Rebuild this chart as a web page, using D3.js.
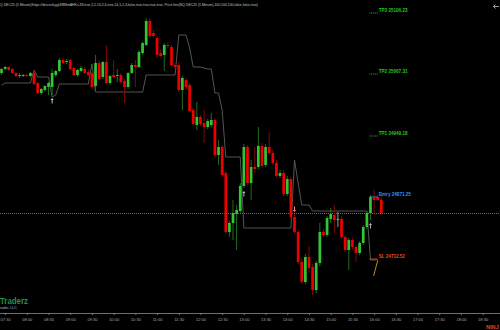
<!DOCTYPE html>
<html>
<head>
<meta charset="utf-8">
<script src="https://cdn.jsdelivr.net/npm/d3@7"></script>
<style>
  html, body { margin: 0; padding: 0; background: #000; overflow: hidden; }
  svg { display: block; font-family: "Liberation Sans", Arial, sans-serif; }
</style>
</head>
<body>
<div id="chart"></div>
<script>
// NQ DEC25, 5 minute bars starting 07:25
const firstBar = "07:25";
const barMinutes = 5;

const opens = [
  25054, 25062, 25066, 25062, 25054, 25048, 25048, 25050, 25048, 25054,
  25034, 25014, 25020, 25026, 25026, 25050, 25058, 25080, 25076, 25080,
  25064, 25050, 25058, 25062, 25056, 25054, 25028, 25074, 25046, 25076,
  25034, 25050, 25048, 25050, 25038, 25026, 25054, 25070, 25066, 25094,
  25110, 25158, 25134, 25124, 25094, 25090, 25110, 25106, 25070, 25070,
  25020, 25040, 25030, 24980, 24950, 24966, 24954, 24946, 24950, 24960,
  24890, 24906, 24854, 24736, 24754, 24772, 24778, 24828, 24906, 24834,
  24866, 24866, 24908, 24870, 24906, 24894, 24874, 24848, 24854, 24812,
  24842, 24766, 24736, 24676, 24636, 24686, 24666, 24620, 24674, 24736,
  24730, 24762, 24770, 24762, 24762, 24726, 24700, 24720, 24706, 24694,
  24714, 24746, 24774, 24804, 24806, 24800
];
const highs = [
  25064, 25068, 25068, 25064, 25056, 25054, 25052, 25052, 25056, 25060,
  25036, 25024, 25030, 25036, 25062, 25060, 25084, 25084, 25082, 25082,
  25066, 25062, 25068, 25066, 25060, 25056, 25090, 25080, 25078, 25110,
  25050, 25080, 25062, 25054, 25042, 25056, 25074, 25080, 25100, 25116,
  25164, 25164, 25140, 25128, 25100, 25114, 25116, 25110, 25074, 25076,
  25048, 25044, 25034, 24984, 24996, 24970, 24980, 24962, 24974, 24964,
  24920, 24910, 24858, 24758, 24800, 24790, 24834, 24912, 24910, 24880,
  24906, 24946, 24914, 24912, 24936, 24900, 24880, 24860, 24860, 24848,
  24846, 24772, 24740, 24684, 24692, 24708, 24672, 24678, 24754, 24742,
  24768, 24784, 24790, 24776, 24768, 24730, 24724, 24724, 24710, 24718,
  24750, 24778, 24810, 24820, 24810, 24816
];
const lows = [
  25050, 25060, 25058, 25052, 25046, 25044, 25046, 25046, 25046, 25030,
  25012, 25010, 25016, 25010, 25010, 25046, 25056, 25072, 25072, 25060,
  25048, 25046, 25056, 25052, 25048, 25024, 25020, 25040, 25042, 25032,
  25030, 25044, 25036, 25032, 24994, 25022, 25052, 25026, 25064, 25090,
  25108, 25124, 25124, 25084, 25086, 25058, 25104, 25066, 25064, 25016,
  24980, 25022, 24976, 24948, 24940, 24948, 24914, 24942, 24946, 24886,
  24870, 24846, 24732, 24726, 24720, 24700, 24774, 24824, 24830, 24800,
  24854, 24862, 24864, 24866, 24890, 24870, 24844, 24844, 24808, 24808,
  24762, 24732, 24672, 24632, 24632, 24654, 24610, 24614, 24668, 24726,
  24726, 24754, 24734, 24746, 24722, 24696, 24660, 24702, 24676, 24690,
  24710, 24742, 24760, 24770, 24798, 24772
];
const closes = [
  25062, 25066, 25060, 25054, 25048, 25050, 25050, 25048, 25054, 25032,
  25014, 25022, 25028, 25034, 25054, 25058, 25080, 25074, 25078, 25062,
  25050, 25060, 25064, 25054, 25050, 25026, 25074, 25042, 25076, 25034,
  25048, 25046, 25050, 25036, 25026, 25054, 25070, 25066, 25096, 25114,
  25158, 25128, 25128, 25090, 25088, 25110, 25108, 25070, 25066, 25020,
  25044, 25026, 24978, 24952, 24966, 24952, 24946, 24958, 24960, 24890,
  24906, 24850, 24736, 24754, 24774, 24780, 24828, 24906, 24834, 24866,
  24862, 24908, 24868, 24906, 24894, 24874, 24848, 24854, 24812, 24842,
  24766, 24736, 24676, 24636, 24686, 24664, 24620, 24674, 24736, 24730,
  24764, 24772, 24760, 24762, 24726, 24700, 24720, 24706, 24694, 24714,
  24746, 24774, 24806, 24800, 24800, 24774
];

// gray trailing line, one value per bar
const trailStop = [
  25030,
  25034, 25034, 25034, 25034, 25034, 25034, 25034, 25034,
  25060,
  25046, 25046, 25046, 25046,
  25006, 25010,
  25032, 25032, 25032, 25032, 25032, 25032, 25032, 25032, 25032,
  25072,
  25016, 25016, 25016, 25016, 25016, 25016, 25016, 25016, 25016, 25016, 25016, 25016, 25016, 25016,
  25050, 25050, 25050, 25050, 25050, 25050, 25050, 25050, 25050,
  25130, 25130, 25130,
  25104,
  25066, 25066, 25066,
  25064, 25062, 25062,
  25014, 25014,
  24980,
  24886, 24886, 24886, 24886, 24886,
  24744, 24744, 24744, 24744, 24744, 24744, 24744, 24744, 24744, 24744, 24744, 24744, 24744, 24744,
  24880, 24834,
  24790, 24790, 24790,
  24778, 24778, 24778, 24778, 24778, 24778, 24778, 24778, 24778, 24778, 24778, 24778, 24778, 24778, 24778, 24778,
  24680, 24680, 24680
];

const timeLabels = [
  "07:30", "08:00", "08:30", "09:00", "09:30", "10:00", "10:30", "11:00",
  "11:30", "12:00", "12:30", "13:00", "13:30", "14:00", "14:30", "15:00",
  "15:30", "16:00", "16:30", "17:00", "17:30", "18:00", "18:30"
];

const levelNames = ["TP3", "TP2", "TP1", "Entry", "SL"];
const levelPrices = ["25106.23", "25067.31", "24949.18", "24871.25", "24712.52"];
const levelPlotAt = [25174, 25052, 24928, 24806, 24682];
const levelFromBar = 102;
const levelToBar = 104;

const signalBars = [14, 67, 81, 102];
const signalDirs = ["up", "up", "down", "up"];
const signalKinds = ["long", "mark", "short", "mark"];

const headerText = "Q DEC25 (5 Minute)/https://discord.gg/4988mAHKs,39,true,2,2,10,2.4,true,14,1,2,3,false,true,true,true,true, Price line(NQ DEC25 (5 Minute),100,100,100,false,false,true)";

const W = 500, H = 330;
const colors = {
  up: "#33c633", down: "#ee0000", doji: "#a8a8a8",
  upWick: "#1f7a1f", downWick: "#8a0a0a",
  trail: "#5e5e5e", priceLine: "#7e7a06",
  TP3: "#22c822", TP2: "#22c822", TP1: "#22c822", Entry: "#3b8fe8", SL: "#f04a10",
  long: "#98d898", mark: "#b4b4b4", short: "#e88a8a"
};

const toMin = (s) => +s.slice(0, 2) * 60 + +s.slice(3);

const bars = d3.range(opens.length).map((i) => ({
  i, o: opens[i], h: highs[i], l: lows[i], c: closes[i],
}));

const svg = d3.select("#chart").append("svg")
  .attr("width", W).attr("height", H)
  .style("background", "#000");

const x = d3.scaleLinear().domain([0, 132]).range([1.5, 479]);
const y = d3.scaleLinear().domain([24600, 25200]).range([300, 0]);

// header
svg.append("text")
  .attr("x", 0).attr("y", 6.3)
  .attr("font-size", 3.7)
  .attr("fill", "#c4c4c4")
  .attr("textLength", 258)
  .attr("lengthAdjust", "spacingAndGlyphs")
  .text(headerText);

// top right arrow
svg.append("path")
  .attr("d", "M499,6.5H493.5M495.5,4.5L493.5,6.5L495.5,8.5")
  .attr("stroke", "#b0b0b0").attr("stroke-width", 0.9).attr("fill", "none");

// price line at last close
const lastClose = closes[closes.length - 1];
svg.append("line")
  .attr("x1", 0).attr("x2", W)
  .attr("y1", y(lastClose) + 0.5).attr("y2", y(lastClose) + 0.5)
  .attr("stroke", colors.priceLine)
  .attr("stroke-width", 1)
  .attr("stroke-dasharray", "1,1");

// trailing line
svg.append("path")
  .datum(trailStop)
  .attr("fill", "none")
  .attr("stroke", colors.trail)
  .attr("stroke-width", 0.9)
  .attr("d", d3.line().x((d, i) => x(i)).y((d) => y(d)));

// candles
const candle = svg.append("g").selectAll("g").data(bars).enter().append("g");
const kind = (d) => (d.c > d.o ? "up" : d.c < d.o ? "down" : "doji");

candle.append("line")
  .attr("x1", (d) => x(d.i)).attr("x2", (d) => x(d.i))
  .attr("y1", (d) => y(d.h)).attr("y2", (d) => y(d.l))
  .attr("stroke", (d) => kind(d) === "up" ? colors.upWick : kind(d) === "down" ? colors.downWick : colors.doji)
  .attr("stroke-width", 0.9);

candle.append("rect")
  .attr("x", (d) => x(d.i) - 1.35)
  .attr("width", 2.7)
  .attr("y", (d) => y(Math.max(d.o, d.c)))
  .attr("height", (d) => Math.max(0.8, Math.abs(y(d.o) - y(d.c))))
  .attr("fill", (d) => colors[kind(d)]);

// signal arrows
signalBars.forEach((b, k) => {
  const up = signalDirs[k] === "up";
  const tip = up ? y(lows[b]) + 3 : y(highs[b]) - 2;
  const s = up ? 1 : -1;
  const cx = x(b);
  svg.append("path")
    .attr("d", `M${cx},${tip}L${cx - 1.6},${tip + s * 2}L${cx + 1.6},${tip + s * 2}Z`)
    .attr("fill", colors[signalKinds[k]]);
  svg.append("line")
    .attr("x1", cx).attr("x2", cx)
    .attr("y1", tip + s * 1.5).attr("y2", tip + s * 5.5)
    .attr("stroke", colors[signalKinds[k]]).attr("stroke-width", 1);
});

// trade levels
levelNames.forEach((name, k) => {
  const ly = y(levelPlotAt[k]);
  svg.append("line")
    .attr("x1", x(levelFromBar) - 1).attr("x2", x(levelToBar))
    .attr("y1", ly).attr("y2", ly)
    .attr("stroke", colors[name])
    .attr("stroke-width", 0.9)
    .attr("stroke-dasharray", name.startsWith("TP") ? "1,0.8" : null);
  svg.append("text")
    .attr("x", x(levelToBar) + 1)
    .attr("y", ly - 1.4)
    .attr("font-size", 4.6)
    .attr("font-weight", "bold")
    .attr("fill", colors[name])
    .text(`${name} ${levelPrices[k]}`);
});

// stop connector below the last bars
svg.append("line")
  .attr("x1", x(levelToBar)).attr("y1", y(levelPlotAt[4]) + 1.5)
  .attr("x2", x(levelToBar - 1) - 0.5).attr("y2", y(24648))
  .attr("stroke", "#c8a010").attr("stroke-width", 0.9);

// x axis
const axisY = 313;
svg.append("line")
  .attr("x1", 0).attr("x2", W)
  .attr("y1", axisY + 0.5).attr("y2", axisY + 0.5)
  .attr("stroke", "#8a8a8a").attr("stroke-width", 0.8);

const tickIdx = timeLabels.map((t) => (toMin(t) - toMin(firstBar)) / barMinutes);
const axis = svg.append("g")
  .attr("transform", `translate(0,${axisY})`)
  .call(
    d3.axisBottom(x)
      .tickValues(tickIdx)
      .tickFormat((d, i) => timeLabels[i])
      .tickSize(2)
      .tickPadding(3),
  );
axis.select(".domain").remove();
axis.selectAll("line").attr("stroke", "#8a8a8a").attr("stroke-width", 0.8);
axis.selectAll("text")
  .attr("fill", "#a8a8a8")
  .attr("font-size", 4)
  .attr("font-family", "Liberation Sans, Arial, sans-serif");

// branding
svg.append("text")
  .attr("x", 0).attr("y", 303.6)
  .attr("font-size", 9.5).attr("font-weight", "bold")
  .attr("fill", "#23914a")
  .attr("textLength", 28).attr("lengthAdjust", "spacingAndGlyphs")
  .text("Traderz");
svg.append("text")
  .attr("x", 0).attr("y", 308.6)
  .attr("font-size", 3.6)
  .attr("fill", "#bdbdbd")
  .text("rader, LLC");
svg.append("text")
  .attr("x", 486).attr("y", 328.6)
  .attr("font-size", 5.6).attr("font-weight", "bold")
  .attr("fill", "#e8441c")
  .text("NINJ");
</script>
</body>
</html>
